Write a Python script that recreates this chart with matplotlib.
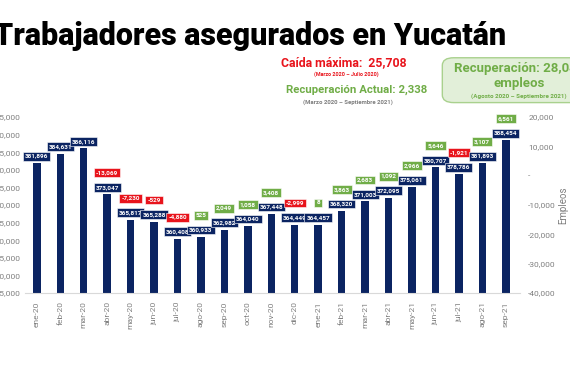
import numpy as np
import matplotlib.pyplot as plt
from matplotlib.ticker import FuncFormatter, MultipleLocator
from matplotlib.patches import FancyBboxPatch

meses = ["ene-20", "feb-20", "mar-20", "abr-20", "may-20", "jun-20", "jul-20",
         "ago-20", "sep-20", "oct-20", "nov-20", "dic-20", "ene-21", "feb-21",
         "mar-21", "abr-21", "may-21", "jun-21", "jul-21", "ago-21", "sep-21"]
asegurados = [381896, 384631, 386116, 373047, 365817, 365288, 360408,
              360933, 362982, 364040, 367448, 364449, 364457, 368320,
              371003, 372095, 375061, 380707, 378786, 381893, 388454]
# variacion mensual (None = sin etiqueta)
variacion = [None, None, None, -13069, -7230, -529, -4880,
             525, 2049, 1058, 3408, -2999, 8, 3863,
             2683, 1092, 2966, 5646, -1921, 3107, 6561]

navy = "#0b2462"
verde = "#70ad47"
rojo = "#e8141c"
gris = "#7f7f7f"

plt.rcParams['font.family'] = ['Roboto', 'DejaVu Sans']

fig = plt.figure(figsize=(5.7, 3.8), dpi=100)
ax = fig.add_axes([0.044, 0.229, 0.868, 0.463])
x = np.arange(len(meses))
ax.bar(x, asegurados, width=0.32, color=navy, zorder=2)
ax.set_xlim(-0.5, 20.6)
ax.set_ylim(345000, 395000)
ax.yaxis.set_major_locator(MultipleLocator(5000))
ax.yaxis.set_major_formatter(FuncFormatter(lambda v, p: f"{v:,.0f}"))
ax.set_xticks(x)
ax.set_xticklabels(meses, rotation=90)
ax.tick_params(axis='both', length=0, colors=gris, labelsize=6)
ax.tick_params(axis='x', pad=6)
for s in ["top", "right", "left"]:
    ax.spines[s].set_visible(False)
ax.spines["bottom"].set_color("#d9d9d9")

for xi, v, d in zip(x, asegurados, variacion):
    ax.annotate(f"{v:,}", (xi, v), xytext=(0, 5), textcoords="offset points",
                ha="center", va="center", fontsize=4.6, fontweight="bold",
                color="white", zorder=4,
                bbox=dict(boxstyle="square,pad=0.3", fc=navy, ec="white", lw=0.4))
    if d is not None:
        ax.annotate(f"{d:,}", (xi, v), xytext=(0, 15.5), textcoords="offset points",
                    ha="center", va="center", fontsize=4.6, fontweight="bold",
                    color="white", zorder=4,
                    bbox=dict(boxstyle="square,pad=0.3", fc=verde if d >= 0 else rojo,
                              ec="white", lw=0.4))

ax2 = ax.twinx()
ax2.set_ylim(-40000, 20000)
ax2.yaxis.set_major_locator(MultipleLocator(10000))
ax2.yaxis.set_major_formatter(FuncFormatter(lambda v, p: "-" if v == 0 else f"{v:,.0f}"))
ax2.tick_params(axis='y', length=0, colors=gris, labelsize=6, pad=6)
for s in ax2.spines.values():
    s.set_visible(False)
ax2.set_ylabel("Empleos", color=gris, fontsize=7, labelpad=2)

fig.text(-0.011, 0.905, "Trabajadores asegurados en Yucatán", fontsize=22,
         fontweight="black", color="black", ha="left", va="center")

fig.text(0.603, 0.834, "Caída máxima:  25,708", fontsize=8.8, fontweight="bold",
         color=rojo, ha="center", va="center")
fig.text(0.607, 0.805, "(Marzo 2020 – Julio 2020)", fontsize=3.9, fontweight="bold",
         color=rojo, ha="center", va="center")
fig.text(0.626, 0.763, "Recuperación Actual: 2,338", fontsize=8.2, fontweight="bold",
         color=verde, ha="center", va="center")
fig.text(0.611, 0.731, "(Marzo 2020 – Septiembre 2021)", fontsize=4.3, fontweight="bold",
         color=gris, ha="center", va="center")

caja = FancyBboxPatch((0.776, 0.73), 0.30, 0.118, boxstyle="round,pad=0,rounding_size=0.02",
                      transform=fig.transFigure, fc="#e2efd9", ec="#a9d18e", lw=1)
fig.patches.append(caja)
fig.text(0.91, 0.82, "Recuperación: 28,046", fontsize=9.5, fontweight="bold",
         color=verde, ha="center", va="center")
fig.text(0.91, 0.781, "empleos", fontsize=9.5, fontweight="bold",
         color=verde, ha="center", va="center")
fig.text(0.91, 0.748, "(Agosto 2020 – Septiembre 2021)", fontsize=4.5, fontweight="bold",
         color=verde, ha="center", va="center")

fig.savefig("out.png", dpi=100)
